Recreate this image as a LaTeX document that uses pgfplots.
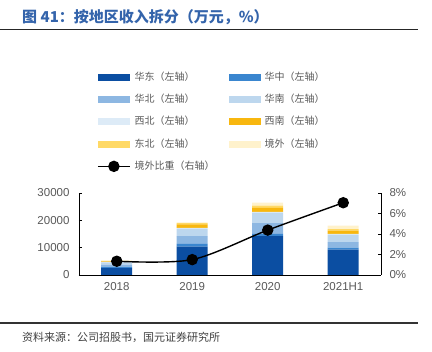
\documentclass[border=0pt]{standalone}
\usepackage{pgfplots}
\pgfplotsset{compat=1.18}
\usepackage{fontspec}
\setmainfont{Liberation Sans}
\newfontfamily\cjk{Noto Sans CJK SC}
\definecolor{cA}{HTML}{0B4EA2}
\definecolor{cB}{HTML}{3A86CF}
\definecolor{cC}{HTML}{8DB7E2}
\definecolor{cD}{HTML}{BDD7EE}
\definecolor{cE}{HTML}{DDEBF7}
\definecolor{cF}{HTML}{F8B70F}
\definecolor{cG}{HTML}{FFD966}
\definecolor{cH}{HTML}{FFF2CC}
\definecolor{titleblue}{HTML}{3464AB}
\definecolor{txtgray}{HTML}{595959}
\pgfplotsset{
  barleg/.style={legend image code/.code={\fill[##1] (0pt,-3.5pt) rectangle (32pt,3.5pt);}},
  lineleg/.style={legend image code/.code={\draw[##1, mark=none] (0pt,0pt) -- (32pt,0pt); \draw[##1] plot coordinates {(16pt,0pt)};}},
}
\begin{document}
\begin{tikzpicture}[x=1pt,y=1pt]
\useasboundingbox (0,0) rectangle (432,352);
\node[anchor=west, inner sep=0pt, font=\cjk\bfseries\fontsize{15}{17}\selectfont, text=titleblue] at (22,335) {图 41：按地区收入拆分（万元，\%）};
\draw[line width=1.5pt, black!85] (0,322.5) -- (418,322.5);
\draw[line width=2pt, black!80] (0,28.7) -- (418,28.7);
\node[anchor=west, inner sep=0pt, font=\cjk\fontsize{11}{13}\selectfont, text=black!75] at (22,15) {资料来源：公司招股书，国元证券研究所};

\begin{axis}[
  at={(79pt,77pt)}, anchor=south west,
  scale only axis, width=302pt, height=82pt,
  xmin=-0.5, xmax=3.5, ymin=0, ymax=30000,
  ybar stacked, bar width=31pt,
  axis x line*=bottom, axis y line*=left,
  axis line style={black, line width=0.8pt},
  xtick={0,1,2,3}, xticklabels={2018,2019,2020,2021H1},
  major x tick style={draw=none},
  extra x ticks={0.5,1.5,2.5}, extra x tick labels={},
  extra x tick style={major tick length=3pt, tick style={black, line width=0.8pt}},
  ytick={0,10000,20000,30000},
  scaled y ticks=false,
  tick align=inside, major tick length=3pt,
  tick style={black, line width=0.8pt},
  /pgf/number format/assume math mode=true,
  yticklabel style={/pgf/number format/1000 sep={}, font=\fontsize{11.5}{13}\selectfont, text=txtgray, xshift=-6pt},
  xticklabel style={font=\fontsize{11.5}{13}\selectfont, text=txtgray, yshift=-4pt},
  legend columns=2,
  legend cell align=left,
  legend style={at={(0.0596,2.476)}, anchor=north west, draw=none, fill=none, inner sep=0pt,
    column sep=0pt, row sep=12.3pt,
    /tikz/every odd column/.style={column sep=4pt},
    nodes={inner sep=0pt, text width=94pt, text height=8pt, text depth=2pt, anchor=west, font=\cjk\fontsize{10}{12}\selectfont, text=txtgray}},
]
\addplot+[fill=cA, draw=none, barleg] coordinates {(0,2500) (1,10400) (2,14200) (3,9300)};
\addlegendentry{华东（左轴）}
\addplot+[fill=cB, draw=none, barleg] coordinates {(0,400) (1,1000) (2,850) (3,750)};
\addlegendentry{华中（左轴）}
\addplot+[fill=cC, draw=none, barleg] coordinates {(0,900) (1,2800) (2,3900) (3,1950)};
\addlegendentry{华北（左轴）}
\addplot+[fill=cD, draw=none, barleg] coordinates {(0,800) (1,2700) (2,3800) (3,2700)};
\addlegendentry{华南（左轴）}
\addplot+[fill=cE, draw=none, barleg] coordinates {(0,200) (1,300) (2,300) (3,300)};
\addlegendentry{西北（左轴）}
\addplot+[fill=cF, draw=none, barleg] coordinates {(0,200) (1,1300) (2,1500) (3,1200)};
\addlegendentry{西南（左轴）}
\addplot+[fill=cG, draw=none, barleg] coordinates {(0,200) (1,500) (2,800) (3,600)};
\addlegendentry{东北（左轴）}
\addplot+[fill=cH, draw=none, barleg] coordinates {(0,70) (1,290) (2,1165) (3,1270)};
\addlegendentry{境外（左轴）}
\addlegendimage{black, line width=1.4pt, mark=*, mark size=5pt, lineleg}
\addlegendentry{境外比重（右轴）}
\end{axis}

\begin{axis}[
  at={(79pt,77pt)}, anchor=south west,
  scale only axis, width=302pt, height=82pt,
  xmin=-0.5, xmax=3.5, ymin=0, ymax=8,
  axis x line=none, axis y line*=right,
  axis line style={black, line width=0.8pt},
  ytick={0,2,4,6,8},
  yticklabel={\pgfmathprintnumber{\tick}\%},
  tick align=inside, major tick length=3pt,
  tick style={black, line width=0.8pt},
  /pgf/number format/assume math mode=true,
  yticklabel style={font=\fontsize{11.5}{13}\selectfont, text=txtgray, xshift=5pt},
]
\addplot[black, line width=1.4pt, smooth, mark=*, mark size=5pt] coordinates {(0,1.34) (1,1.5) (2,4.38) (3,7.05)};
\end{axis}
\end{tikzpicture}
\end{document}
